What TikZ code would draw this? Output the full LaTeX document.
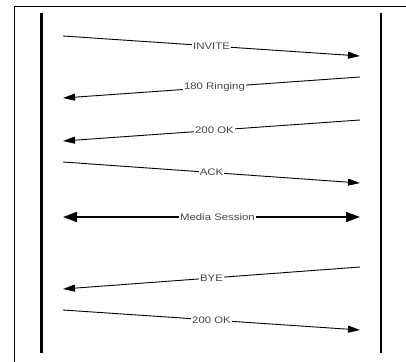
\documentclass[tikz,border=0pt]{standalone}
\usepackage{fontspec}
\setmainfont{Liberation Sans}
\newfontfamily\lblfont[FakeStretch=1.2]{Liberation Sans}
\usetikzlibrary{arrows.meta}
\begin{document}
\begin{tikzpicture}[x=1pt,y=-1pt,
  lifeline/.style={line width=2.6pt},
  msg/.style={line width=0.9pt,-{Triangle[length=12pt,width=7pt]}},
  media/.style={line width=1.8pt,{Triangle[length=14pt,width=10pt]}-{Triangle[length=14pt,width=10pt]}},
  lbl/.style={fill=white,inner sep=1pt,font=\lblfont\fontsize{9.5}{10}\selectfont,text=black!72}]
\useasboundingbox (0,0) rectangle (406,361);
\fill[white] (0,0) rectangle (406,361);
% frame (left and top edges visible)
\draw[line width=0.8pt] (14,362) -- (14,6) -- (407,6);
% lifelines
\coordinate (LT) at (41.5,13);
\coordinate (LB) at (41.5,353);
\coordinate (RT) at (381,13);
\coordinate (RB) at (381,353);
\draw[lifeline] (LT) -- (LB);
\draw[lifeline] (RT) -- (RB);
% message endpoints
\coordinate (a1) at (63,36);  \coordinate (b1) at (360,56);
\coordinate (a2) at (360,77); \coordinate (b2) at (63,98);
\coordinate (a3) at (360,120);\coordinate (b3) at (63,141);
\coordinate (a4) at (63,162); \coordinate (b4) at (360,183);
\coordinate (a5) at (63,217); \coordinate (b5) at (360,217);
\coordinate (a6) at (360,267);\coordinate (b6) at (63,289);
\coordinate (a7) at (63,310); \coordinate (b7) at (360,330);
\draw[msg] (a1) -- node[lbl,pos=0.5] (t1) {INVITE} (b1);
\draw[msg] (a2) -- node[lbl,pos=0.49] (t2) {180 Ringing} (b2);
\draw[msg] (a3) -- node[lbl,pos=0.49] (t3) {200 OK} (b3);
\draw[msg] (a4) -- node[lbl,pos=0.5] (t4) {ACK} (b4);
\draw[media] (a5) -- node[lbl,pos=0.52] (t5) {Media Session} (b5);
\draw[msg] (a6) -- node[lbl,pos=0.5] (t6) {BYE} (b6);
\draw[msg] (a7) -- node[lbl,pos=0.5] (t7) {200 OK} (b7);
\end{tikzpicture}
\end{document}
